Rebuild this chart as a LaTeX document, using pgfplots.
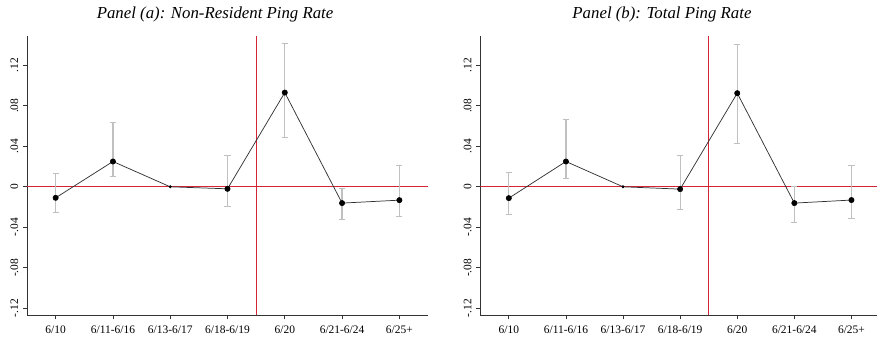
\documentclass[border=0pt]{standalone}
\usepackage{pgfplots}
\pgfplotsset{compat=1.18}
\usepackage{pgfplotstable}
\usepackage{fontspec}
\setmainfont{Liberation Serif}
\definecolor{statared}{RGB}{212,36,56}
\definecolor{cigray}{RGB}{192,192,192}
\definecolor{linegray}{RGB}{50,50,50}

\pgfplotstableread{
x y
1 -0.0109
2 0.0250
3 0.0000
4 -0.0020
5 0.0931
6 -0.0161
7 -0.0132
}\pointsA
\pgfplotstableread{
x y ep em
1 -0.0109 0.0244 0.0145
2 0.0250 0.0389 0.0151
4 -0.0020 0.0326 0.0175
5 0.0931 0.0489 0.0447
6 -0.0161 0.0141 0.0165
7 -0.0132 0.0339 0.0164
}\ciA
\pgfplotstableread{
x y
1 -0.0112
2 0.0250
3 0.0000
4 -0.0023
5 0.0925
6 -0.0161
7 -0.0131
}\pointsB
\pgfplotstableread{
x y ep em
1 -0.0112 0.0253 0.0162
2 0.0250 0.0412 0.0164
4 -0.0023 0.0332 0.0204
5 0.0925 0.0485 0.0493
6 -0.0161 0.0164 0.0195
7 -0.0131 0.0338 0.0179
}\ciB

\pgfplotsset{
  panel/.style={
    scale only axis,
    height=209.5pt,
    xmin=0.5, xmax=7.5,
    ymin=-0.127, ymax=0.149,
    axis x line*=bottom, axis y line*=left,
    axis line style={black!80, line width=0.6pt, -},
    xtick={1,2,3,4,5,6,7},
    xticklabels={6/10,6/11-6/16,6/13-6/17,6/18-6/19,6/20,6/21-6/24,6/25+},
    ytick={-0.12,-0.08,-0.04,0,0.04,0.08,0.12},
    yticklabels={-.12,-.08,-.04,0,.04,.08,.12},
    tick align=outside,
    major tick length=3pt,
    tick style={black!80, line width=0.6pt},
    ticklabel style={font=\fontsize{8.6}{10}\selectfont},
    xticklabel style={yshift=-1.5pt},
    yticklabel style={rotate=90, anchor=south},
    title style={font=\itshape\fontsize{12.6}{15}\selectfont, anchor=center, yshift=10.5pt},
  },
  ci/.style={only marks, mark=none,
    error bars/.cd, y dir=both, y explicit,
    error bar style={draw=cigray, line width=0.9pt},
    error mark options={draw=cigray, mark size=2.3pt, line width=0.8pt, rotate=90}},
  est/.style={linegray, line width=0.55pt, mark=*, mark size=0.85pt, mark options={fill=black, draw=black}},
}

\begin{document}
\begin{tikzpicture}
\useasboundingbox (0,0) rectangle (657.75pt,252pt);
\begin{axis}[panel, width=300.75pt, at={(20.25pt,15.5pt)}, anchor=south west,
  title={Panel (a): Non-Resident Ping Rate}, title style={at={(0.469,1)}}]
  \addplot[statared, line width=0.8pt] coordinates {(0.5,0) (7.5,0)};
  \addplot[statared, line width=0.8pt] coordinates {(4.5,-0.127) (4.5,0.149)};
  \addplot[ci] table[x=x, y=y, y error plus=ep, y error minus=em] {\ciA};
  \addplot[est] table[x=x, y=y] {\pointsA};
\end{axis}
\begin{axis}[panel, width=299.8pt, at={(360.2pt,15.5pt)}, anchor=south west,
  title={Panel (b): Total Ping Rate}, title style={at={(0.4546,1)}}]
  \addplot[statared, line width=0.8pt] coordinates {(0.5,0) (7.5,0)};
  \addplot[statared, line width=0.8pt] coordinates {(4.5,-0.127) (4.5,0.149)};
  \addplot[ci] table[x=x, y=y, y error plus=ep, y error minus=em] {\ciB};
  \addplot[est] table[x=x, y=y] {\pointsB};
\end{axis}
\end{tikzpicture}
\end{document}
